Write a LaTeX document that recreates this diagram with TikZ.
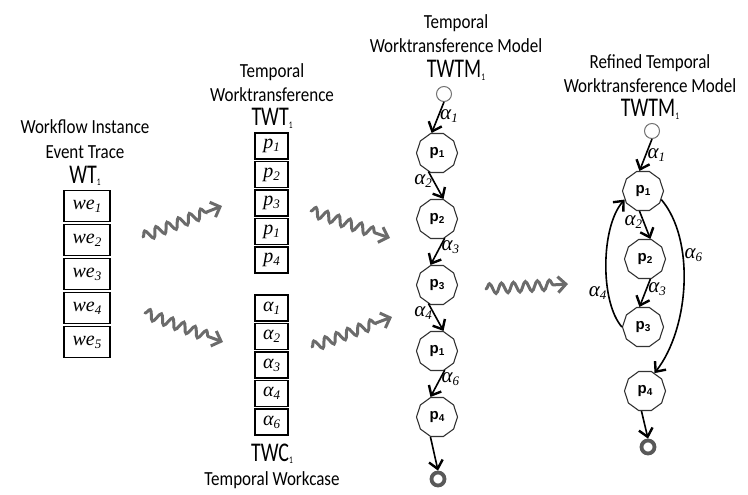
\documentclass[tikz,border=0pt]{standalone}
\usepackage{fontspec}
\setmainfont{Liberation Serif}
\newfontfamily\headfont{Carlito}[FakeStretch=0.85]
\newfontfamily\bigfont{Carlito}[FakeStretch=0.74]
\newfontfamily\statefont{Liberation Sans}
\usetikzlibrary{shapes.geometric,decorations.pathmorphing,arrows.meta}

\newcommand{\sub}[1]{\raisebox{-2.5pt}{\fontsize{10}{10}\selectfont #1}}
\newcommand{\isub}[2]{#1\raisebox{-3pt}{\fontsize{13}{13}\selectfont #2}}
\newcommand{\ssub}[2]{#1\raisebox{-2pt}{\fontsize{10}{10}\selectfont #2}}

\begin{document}
\begin{tikzpicture}[x=1pt,y=-1pt,
  head/.style={font=\headfont\fontsize{20}{22}\selectfont, anchor=base, inner sep=0pt},
  big/.style={font=\bigfont\fontsize{27}{28}\selectfont, anchor=base, inner sep=0pt},
  cell/.style={draw, line width=1.3pt, minimum width=46pt, minimum height=31pt, inner sep=0pt,
    font=\itshape\fontsize{20}{20}\selectfont},
  pcell/.style={draw, line width=1.3pt, minimum width=33pt, minimum height=26pt, inner sep=0pt,
    font=\itshape\fontsize{20}{20}\selectfont},
  state/.style={regular polygon, regular polygon sides=10, draw=black!80, line width=1.1pt,
    minimum size=41pt, inner sep=0pt, font=\statefont\bfseries\fontsize{15}{15}\selectfont},
  startnode/.style={circle, draw=black!55, line width=1pt, fill=white, minimum size=15pt, inner sep=0pt},
  endnode/.style={circle, draw=black!65, line width=3.8pt, minimum size=13pt, inner sep=0pt},
  flow/.style={-{Straight Barb[length=8pt,width=14pt,line width=2.4pt]}, line width=1.6pt},
  lab/.style={font=\itshape\fontsize{21}{21}\selectfont, inner sep=1pt},
  wave/.style={draw=black!58, line width=3pt, line cap=round, decorate,
    decoration={snake, segment length=12pt, amplitude=5pt, post length=14pt},
    -{Straight Barb[length=8pt,width=16pt,line width=3pt]}}
]
\useasboundingbox (0,0) rectangle (748,495);

% ---- workflow instance event trace
\node[head] (wtA) at (85,134) {Workflow Instance};
\node[head] (wtB) at (85,158) {Event Trace};
\node[big]  (wtC) at (85,183) {WT\sub{1}};
\node[cell] (we1) at (87,206) {\isub{we}{1}};
\node[cell] (we2) at (87,240) {\isub{we}{2}};
\node[cell] (we3) at (87,274) {\isub{we}{3}};
\node[cell] (we4) at (87,308) {\isub{we}{4}};
\node[cell] (we5) at (87,342) {\isub{we}{5}};

% ---- temporal worktransference and workcase
\node[head] (twtA) at (272,78) {Temporal};
\node[head] (twtB) at (272,102) {Worktransference};
\node[big]  (twtC) at (272,126) {TWT\sub{1}};
\node[pcell] (t1) at (271.5,146)   {\isub{p}{1}};
\node[pcell] (t2) at (271.5,174.5) {\isub{p}{2}};
\node[pcell] (t3) at (271.5,203)   {\isub{p}{3}};
\node[pcell] (t4) at (271.5,231.5) {\isub{p}{1}};
\node[pcell] (t5) at (271.5,260)   {\isub{p}{4}};
\node[pcell] (c1) at (271.5,308)   {\isub{α}{1}};
\node[pcell] (c2) at (271.5,336.5) {\isub{α}{2}};
\node[pcell] (c3) at (271.5,365)   {\isub{α}{3}};
\node[pcell] (c4) at (271.5,393.5) {\isub{α}{4}};
\node[pcell] (c5) at (271.5,422)   {\isub{α}{6}};
\node[big]  (twcA) at (272,461) {TWC\sub{1}};
\node[head] (twcB) at (272,485) {Temporal Workcase};

% ---- temporal worktransference model
\node[head] (mA) at (456,29) {Temporal};
\node[head] (mB) at (456,53) {Worktransference Model};
\node[big]  (mC) at (456,78) {TWTM\sub{1}};
\node[startnode] (m0) at (444,94) {};
\node[state] (m1) at (437,153) {\ssub{p}{1}};
\node[state] (m2) at (437,219) {\ssub{p}{2}};
\node[state] (m3) at (437,285) {\ssub{p}{3}};
\node[state] (m4) at (437,351) {\ssub{p}{1}};
\node[state] (m5) at (437,417) {\ssub{p}{4}};
\node[endnode] (me) at (438,479) {};

\draw[flow] (m0.south) -- node[lab, right, pos=0.45] {\isub{α}{1}} (m1.105);
\draw[flow] (m1.-115) -- node[lab, left, pos=0.35] {\isub{α}{2}} (m2.72);
\draw[flow] (m2.-68) -- node[lab, right, pos=0.35] {\isub{α}{3}} (m3.108);
\draw[flow] (m3.-115) -- node[lab, left, pos=0.35] {\isub{α}{4}} (m4.72);
\draw[flow] (m4.-68) -- node[lab, right, pos=0.35] {\isub{α}{6}} (m5.108);
\draw[flow] (m5.-108) -- (me.north);

% ---- refined temporal worktransference model
\node[head] (rA) at (650,69) {Refined Temporal};
\node[head] (rB) at (650,93) {Worktransference Model};
\node[big]  (rC) at (650,117) {TWTM\sub{1}};
\node[startnode] (r0) at (652,131) {};
\node[state] (r1) at (643,191) {\ssub{p}{1}};
\node[state] (r2) at (645,259) {\ssub{p}{2}};
\node[state] (r3) at (643,327) {\ssub{p}{3}};
\node[state] (r4) at (645,391) {\ssub{p}{4}};
\node[endnode] (re) at (648,447) {};

\draw[flow] (r0.south) -- node[lab, right, pos=0.5] {\isub{α}{1}} (r1.100);
\draw[flow] (r1.-100) -- node[lab, left, pos=0.4] {\isub{α}{2}} (r2.75);
\draw[flow] (r2.-75) -- node[lab, right, pos=0.35] {\isub{α}{3}} (r3.100);
\draw[flow] (r3.180) .. controls +(-22,-25) and +(-24,27) .. node[lab, left, pos=0.3] {\isub{α}{4}} (r1.205);
\draw[flow] (r1.-25) .. controls +(34,40) and +(35,-45) .. node[lab, right, pos=0.35] {\isub{α}{6}} (r4.62);
\draw[flow] (r4.-100) -- (re.north);

% ---- transformation steps
\coordinate (w1s) at (143,237);
\coordinate (w1e) at (222,206);
\coordinate (w2s) at (145,313);
\coordinate (w2e) at (223,342);
\coordinate (w3s) at (311,211);
\coordinate (w3e) at (390,238);
\coordinate (w4s) at (312,347);
\coordinate (w4e) at (392,317);
\coordinate (w5s) at (486,289);
\coordinate (w5e) at (568,284);
\draw[wave] (w1s) -- (w1e);
\draw[wave] (w2s) -- (w2e);
\draw[wave] (w3s) -- (w3e);
\draw[wave] (w4s) -- (w4e);
\draw[wave] (w5s) -- (w5e);
\end{tikzpicture}
\end{document}
